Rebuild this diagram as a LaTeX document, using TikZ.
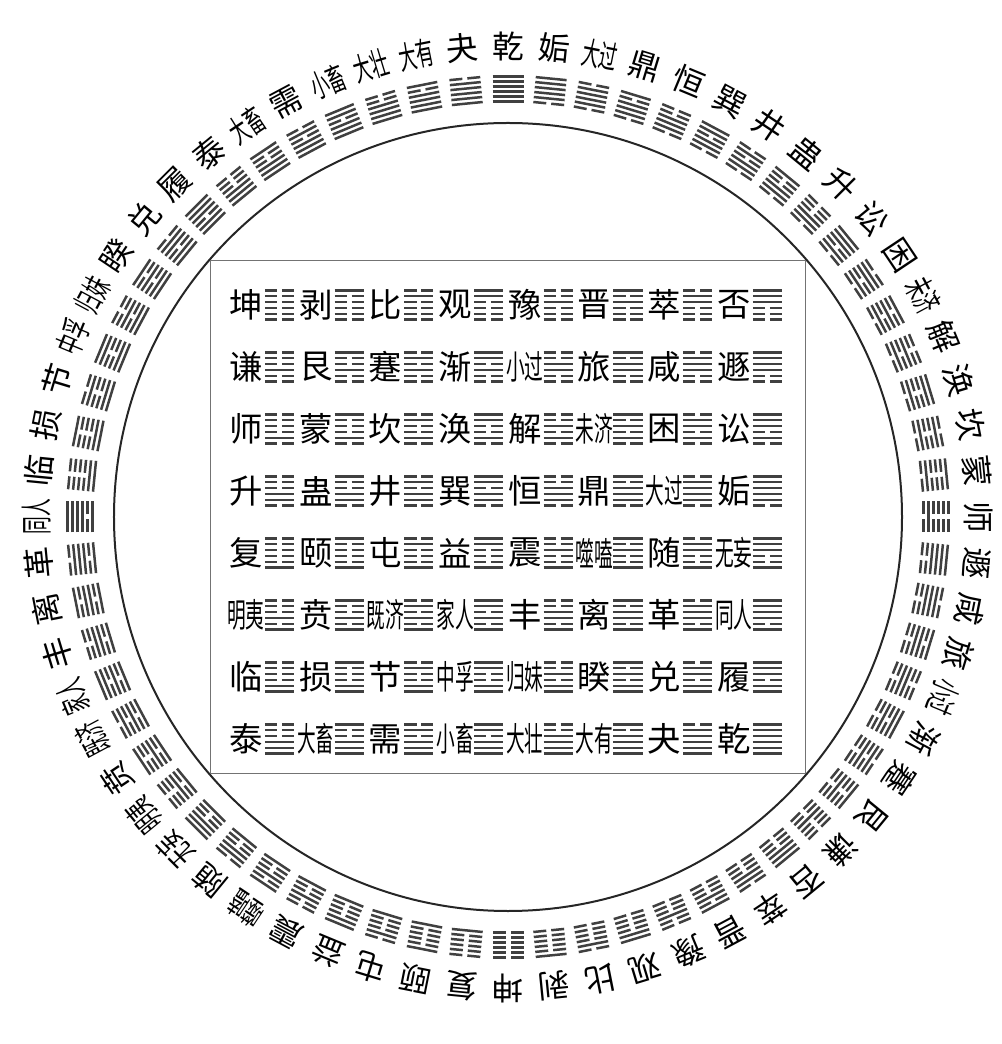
\documentclass[tikz,border=0pt]{standalone}
\usepackage{fontspec}
\newfontfamily\cjk{Noto Sans CJK SC}
\newcommand{\duo}[1]{\scalebox{0.56}[1]{#1}}
\newcommand{\guaming}{坤,剥,比,观,豫,晋,萃,否,谦,艮,蹇,渐,\duo{小过},旅,咸,遯,师,蒙,坎,涣,解,\duo{未济},困,讼,升,蛊,井,巽,恒,鼎,\duo{大过},姤,复,颐,屯,益,震,\duo{噬嗑},随,\duo{无妄},\duo{明夷},贲,\duo{既济},\duo{家人},丰,离,革,\duo{同人},临,损,节,\duo{中孚},\duo{归妹},睽,兑,履,泰,\duo{大畜},需,\duo{小畜},\duo{大壮},\duo{大有},夬,乾}
\tikzset{
  ringtext/.style={font=\cjk\fontsize{18}{18}\selectfont, inner sep=0pt},
  celltext/.style={font=\cjk\fontsize{19}{19}\selectfont, inner sep=0pt},
  pics/gua/.style={code={
    \foreach \i in {0,...,5}{
      \pgfmathtruncatemacro{\yao}{mod(floor(#1/2^(5-\i)),2)}
      \pgfmathsetmacro{\yy}{(\i-2.5)*0.1}
      \ifnum\yao=1
        \draw (-0.31,\yy) -- (0.31,\yy);
      \else
        \draw (-0.31,\yy) -- (-0.05,\yy) (0.05,\yy) -- (0.31,\yy);
      \fi
    }}},
}
\begin{document}
\begin{tikzpicture}
    \useasboundingbox (-10.16,-10.54) rectangle (9.86,10.34);
    \draw[line width=0.04cm, black!85] (0,0) circle (7.88);
    \draw[line width=0.035cm, black!55] (-5.95,-5.13) rectangle (5.95,5.13);
    \foreach \nm [count=\k from 0] in \guaming {
        \pgfmathtruncatemacro{\p}{\k>31 ? mod(\k+1,64) : 32-\k}
        \pgfmathsetmacro{\ang}{90-5.625*\p}
        \node[ringtext, rotate=\ang-90] (ring-\k) at (\ang:9.42) {\nm};
        \pic[rotate=\ang-90, line width=0.05cm, black!75] at (\ang:8.56) {gua=\k};
        \pgfmathtruncatemacro{\rowi}{floor(\k/8)}
        \pgfmathtruncatemacro{\coli}{mod(\k,8)}
        \node[celltext] (cell-\k) at ({-5.24+1.394*\coli},{4.24-1.24*\rowi}) {\nm};
        \pic[xscale=0.94, yscale=1.16, line width=0.045cm, black!75] at ({-4.57+1.394*\coli},{4.24-1.24*\rowi}) {gua=\k};
    }
\end{tikzpicture}
\end{document}
